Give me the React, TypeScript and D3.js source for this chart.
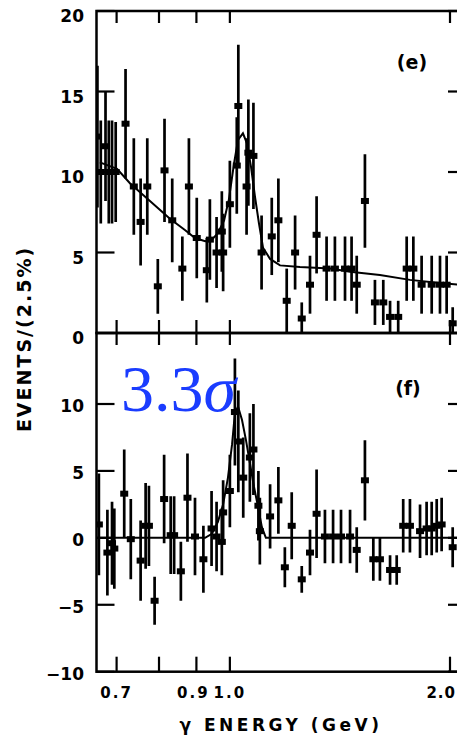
import React from "react";
import * as d3 from "d3";

// ---- data (photon energy in GeV, events / 2.5%) ----
const topE = [0.659, 0.666, 0.676, 0.683, 0.690, 0.698, 0.720, 0.739, 0.755, 0.771, 0.797, 0.814, 0.834, 0.861, 0.879, 0.901, 0.930, 0.939, 0.959, 0.975, 0.979, 1.000, 1.022, 1.027, 1.054, 1.060, 1.077, 1.105, 1.141, 1.165, 1.196, 1.228, 1.254, 1.287, 1.314, 1.356, 1.392, 1.437, 1.467, 1.491, 1.530, 1.579, 1.621, 1.656, 1.699, 1.745, 1.782, 1.829, 1.888, 1.938, 1.979, 2.017];
const topV = [12.2, 10.0, 11.6, 10.0, 10.0, 10.0, 13.0, 9.1, 6.9, 9.1, 2.9, 10.1, 7.0, 4.0, 9.1, 5.9, 3.9, 5.8, 5.0, 6.3, 5.0, 8.0, 10.4, 14.1, 9.1, 11.2, 11.0, 5.0, 6.0, 7.0, 2.0, 5.0, 0.9, 3.0, 6.1, 4.0, 4.0, 4.0, 4.0, 3.0, 8.2, 1.9, 1.9, 1.0, 1.0, 4.0, 4.0, 3.0, 3.0, 3.0, 3.0, 0.6];
const topErr = [4.4, 3.2, 3.4, 3.2, 3.2, 3.1, 3.4, 3.0, 2.7, 3.0, 1.7, 3.2, 2.6, 2.0, 3.0, 2.5, 2.0, 2.5, 2.2, 2.5, 2.4, 2.7, 3.0, 3.8, 3.0, 3.3, 3.3, 2.3, 2.4, 2.6, 2.0, 2.3, 1.0, 1.8, 2.4, 2.0, 2.0, 2.0, 2.0, 1.8, 2.9, 1.4, 1.4, 1.0, 1.0, 2.0, 2.0, 1.8, 1.8, 1.8, 1.8, 1.0];

const topFitE = [0.664, 0.701, 0.730, 0.7775, 0.828, 0.868, 0.896, 0.925, 0.945, 0.963, 0.982, 0.997, 1.013, 1.026, 1.042, 1.055, 1.069, 1.082, 1.096, 1.110, 1.135, 1.171, 1.247, 1.371, 1.460, 1.604, 1.763, 1.938, 2.06];
const topFitV = [10.6, 10.2, 9.3, 8.2, 7.1, 6.4, 5.9, 5.7, 5.8, 6.2, 7.0, 8.3, 10.5, 12.0, 12.4, 11.8, 10.3, 8.5, 6.8, 5.3, 4.6, 4.2, 4.1, 4.0, 3.8, 3.6, 3.3, 3.1, 3.0];

const botE = [0.662, 0.680, 0.690, 0.695, 0.717, 0.732, 0.755, 0.767, 0.775, 0.789, 0.813, 0.830, 0.839, 0.857, 0.875, 0.896, 0.920, 0.944, 0.959, 0.975, 0.979, 1.000, 1.016, 1.027, 1.043, 1.065, 1.077, 1.094, 1.099, 1.135, 1.165, 1.189, 1.215, 1.254, 1.287, 1.314, 1.349, 1.384, 1.419, 1.460, 1.491, 1.530, 1.571, 1.604, 1.656, 1.691, 1.726, 1.763, 1.820, 1.858, 1.888, 1.918, 1.948, 2.017];
const botV = [1.0, -1.1, -0.4, -0.8, 3.3, -0.1, -1.7, 0.9, 0.9, -4.7, 2.9, 0.2, 0.2, -2.5, 3.0, 0.1, -1.6, 0.7, 0.1, -0.3, 1.9, 3.5, 9.4, 7.2, 4.5, 6.0, 6.6, 2.4, 0.5, 1.6, 2.8, -2.2, 0.9, -3.1, -1.1, 1.8, 0.1, 0.1, 0.1, 0.1, -0.9, 4.3, -1.6, -1.6, -2.4, -2.4, 0.9, 0.9, 0.5, 0.7, 0.7, 0.9, 1.0, -0.7];
const botErr = [3.8, 3.2, 3.1, 3.0, 3.3, 3.0, 3.0, 3.2, 3.0, 1.8, 3.3, 2.9, 2.9, 2.2, 3.3, 2.9, 2.5, 2.8, 2.6, 2.5, 2.4, 2.7, 4.0, 3.8, 3.0, 3.3, 3.4, 2.6, 2.5, 2.4, 2.5, 1.5, 2.5, 1.0, 1.7, 3.3, 2.0, 2.0, 2.0, 2.0, 1.7, 3.0, 1.6, 1.6, 1.1, 1.1, 2.0, 2.0, 2.0, 2.0, 2.0, 2.0, 2.0, 1.5];

const botFitE = [0.658, 0.925, 0.945, 0.963, 0.979, 0.994, 1.007, 1.016, 1.026, 1.039, 1.052, 1.065, 1.079, 1.092, 1.106, 1.120, 2.06];
const botFitV = [0, 0, 0.3, 1.2, 2.5, 4.5, 7.0, 9.3, 9.8, 8.8, 7.3, 5.6, 3.8, 2.4, 0.8, 0, 0];

const xTicks = [0.7, 0.8, 0.9, 1.0, 2.0];
const xLabelVals = [0.7, 0.9, 1.0, 2.0];
const xLabelText = ["0.7", "0.9", "1.0", "2.0"];
const topYTicks = [0, 5, 10, 15, 20];
const botYTicks = [-10, -5, 0, 5, 10];

const LBL_FONT = "'DejaVu Sans', sans-serif";

function Panel({ x, y, yTicks, E, V, Err, fitE, fitV, top, bottom, label, labelPos, tickLabelDy, xTickLen }: any) {
  const xL = 96.5;
  const xR = 466;
  const line = d3
    .line<number>()
    .x((_, i) => x(fitE[i]))
    .y((d) => y(d));
  const cid = label === "(e)" ? "clipE" : "clipF";
  return (
    <g>
      <clipPath id={cid}>
        <rect x={xL} y={top} width={xR - xL} height={bottom - top} />
      </clipPath>
      {/* fit curve */}
      <path d={line(fitV) || ""} fill="none" stroke="#000" strokeWidth={2} clipPath={`url(#${cid})`} />
      {/* error bars and markers */}
      <g clipPath={`url(#${cid})`}>
        {E.map((e: number, i: number) => (
          <g key={i}>
            <line x1={x(e)} x2={x(e)} y1={y(V[i] - Err[i])} y2={y(V[i] + Err[i])} stroke="#000" strokeWidth={2.7} />
            <rect x={x(e) - 4} y={y(V[i]) - 3} width={8} height={6} fill="#000" />
          </g>
        ))}
      </g>
      {/* frame */}
      <rect x={xL} y={top} width={xR - xL} height={bottom - top} fill="none" stroke="#000" strokeWidth={2.5} />
      {/* y ticks */}
      {yTicks.map((t: number) => (
        <g key={"y" + t}>
          <line x1={xL} x2={xL + 18} y1={y(t)} y2={y(t)} stroke="#000" strokeWidth={2.2} />
          <line x1={xR - 18} x2={xR} y1={y(t)} y2={y(t)} stroke="#000" strokeWidth={2.2} />
          <text
            x={84}
            y={y(t) + tickLabelDy}
            textAnchor="end"
            dominantBaseline="central"
            fontFamily={LBL_FONT}
            fontWeight="bold"
            fontSize={17}
          >
            {t < 0 ? "\u2212" + Math.abs(t) : String(t)}
          </text>
        </g>
      ))}
      {/* x ticks */}
      {xTicks.map((t) => (
        <g key={"x" + t}>
          <line x1={x(t)} x2={x(t)} y1={top} y2={top + 12} stroke="#000" strokeWidth={2.2} />
          <line x1={x(t)} x2={x(t)} y1={bottom} y2={bottom - xTickLen} stroke="#000" strokeWidth={2.2} />
        </g>
      ))}
      <text x={labelPos[0]} y={labelPos[1]} textAnchor="middle" dominantBaseline="central" fontFamily={LBL_FONT} fontWeight="bold" fontSize={19}>
        {label}
      </text>
    </g>
  );
}

export default function App() {
  const W = 457;
  const H = 739;
  const x = d3.scaleLog().domain([0.7, 2.0]).range([116.6, 450]);
  const yTop = d3.scaleLinear().domain([0, 20]).range([333, 11]);
  const yBot = d3.scaleLinear().domain([-10, 10]).range([671.7, 404]);

  return (
    <svg width={W} height={H} style={{ position: "absolute", left: 0, top: 0, background: "#fff" }}>
      <rect x={0} y={0} width={W} height={H} fill="#fff" />
      <Panel x={x} y={yTop} yTicks={topYTicks} E={topE} V={topV} Err={topErr} fitE={topFitE} fitV={topFitV}
        top={11} bottom={333} label="(e)" labelPos={[412, 62]} tickLabelDy={5} xTickLen={13} />
      <Panel x={x} y={yBot} yTicks={botYTicks} E={botE} V={botV} Err={botErr} fitE={botFitE} fitV={botFitV}
        top={333} bottom={671.7} label="(f)" labelPos={[408, 388]} tickLabelDy={2} xTickLen={15} />
      {/* x tick labels */}
      {xLabelVals.map((v, i) => {
        const last = i === xLabelVals.length - 1;
        return (
          <text key={i} x={last ? 456 : x(v) - (v === 0.9 ? 3 : 0)} y={693} textAnchor={last ? "end" : "middle"}
            dominantBaseline="central" fontFamily={LBL_FONT} fontWeight="bold" fontSize={15} letterSpacing={last ? 1 : 2}>
            {xLabelText[i]}
          </text>
        );
      })}
      {/* axis titles */}
      <text x={281} y={725} textAnchor="middle" dominantBaseline="central" fontFamily={LBL_FONT} fontWeight="bold"
        fontSize={17} letterSpacing={3.5}>
        γ ENERGY (GeV)
      </text>
      <text transform="translate(24,339) rotate(-90)" textAnchor="middle" dominantBaseline="central"
        fontFamily={LBL_FONT} fontWeight="bold" fontSize={19} letterSpacing={2}>
        EVENTS/(2.5%)
      </text>
      {/* annotation */}
      <text x={121} y={411} fontFamily="'Liberation Serif', 'Times New Roman', serif" fontSize={66} fill="#1a3cff">
        3.3<tspan fontStyle="italic">σ</tspan>
      </text>
    </svg>
  );
}
